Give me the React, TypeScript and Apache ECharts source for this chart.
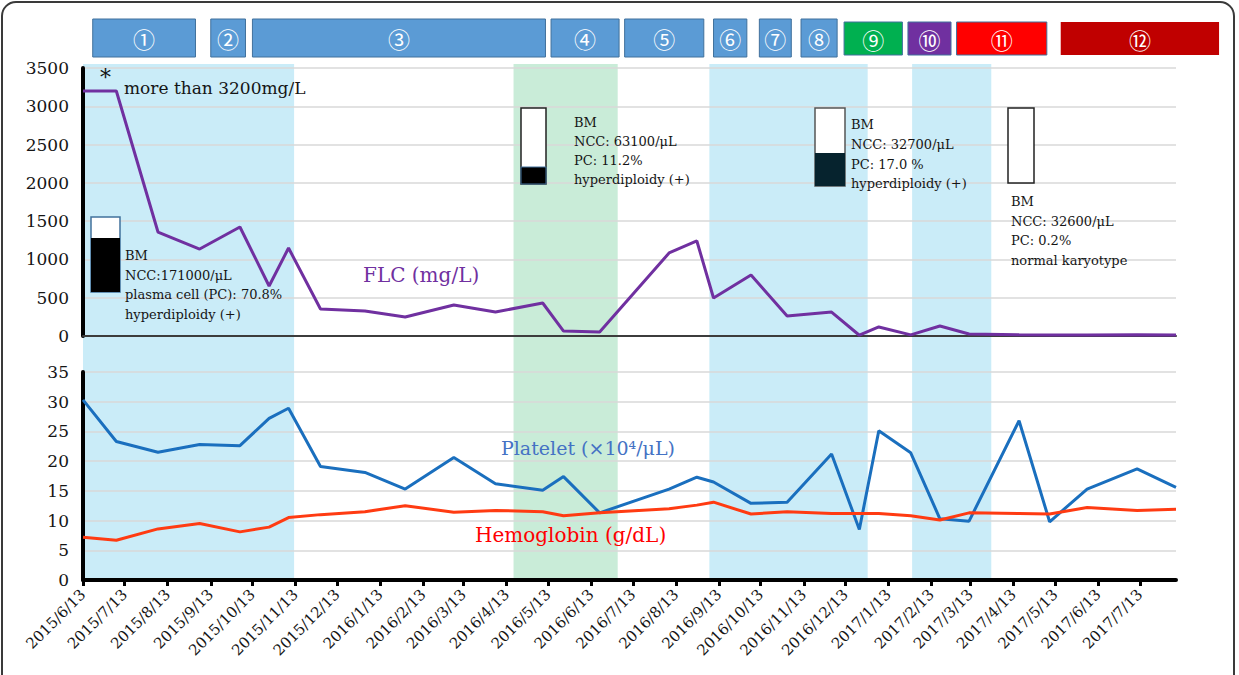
import React, { useEffect, useRef } from 'react';
import * as echarts from 'echarts';

// ---------- data ----------
const sampleDates = [
  '2015/6/13', '2015/7/7', '2015/8/6', '2015/9/5', '2015/10/4', '2015/10/25', '2015/11/8',
  '2015/12/1', '2016/1/2', '2016/1/31', '2016/3/6', '2016/4/5', '2016/5/9', '2016/5/24',
  '2016/6/19', '2016/8/8', '2016/8/28', '2016/9/9', '2016/10/6', '2016/11/1', '2016/12/3',
  '2016/12/23', '2017/1/6', '2017/1/29', '2017/2/19', '2017/3/12', '2017/4/17', '2017/5/9',
  '2017/6/5', '2017/7/11', '2017/8/8',
];
const flcValues = [
  3200, 3200, 1358, 1136, 1424, 653, 1149,
  353, 327, 248, 405, 313, 431, 65,
  52, 1084, 1241, 496, 797, 261, 313,
  10, 118, 15, 131, 26, 15, 12,
  14, 16, 13,
];
const plateletValues = [
  30.3, 23.3, 21.5, 22.8, 22.6, 27.2, 28.9,
  19.1, 18.1, 15.3, 20.6, 16.2, 15.1, 17.4,
  11.3, 15.3, 17.3, 16.5, 12.9, 13.1, 21.2,
  8.5, 25.1, 21.4, 10.3, 9.9, 26.8, 9.8,
  15.3, 18.7, 15.6,
];
const hemoglobinValues = [
  7.2, 6.7, 8.6, 9.5, 8.1, 8.9, 10.5,
  11.0, 11.5, 12.5, 11.4, 11.7, 11.5, 10.8,
  11.3, 12.0, 12.6, 13.1, 11.1, 11.5, 11.2,
  11.2, 11.2, 10.8, 10.1, 11.3, 11.2, 11.1,
  12.2, 11.7, 11.9,
];
const monthTicks = [
  '2015/6/13', '2015/7/13', '2015/8/13', '2015/9/13', '2015/10/13', '2015/11/13', '2015/12/13',
  '2016/1/13', '2016/2/13', '2016/3/13', '2016/4/13', '2016/5/13', '2016/6/13', '2016/7/13',
  '2016/8/13', '2016/9/13', '2016/10/13', '2016/11/13', '2016/12/13', '2017/1/13', '2017/2/13',
  '2017/3/13', '2017/4/13', '2017/5/13', '2017/6/13', '2017/7/13',
];
const axisStart = '2015/6/13';
const axisEnd = '2017/8/8';

const bandStarts = ['2015/6/13', '2016/4/18', '2016/9/6', '2017/1/30'];
const bandEnds = ['2015/11/12', '2016/7/2', '2016/12/29', '2017/3/28'];
const bandColors = ['#caecf8', '#c9ecd8', '#caecf8', '#caecf8'];

const regimenLabels = ['①', '②', '③', '④', '⑤', '⑥', '⑦', '⑧', '⑨', '⑩', '⑪', '⑫'];
const regimenStarts = ['2015/6/20', '2015/9/13', '2015/10/13', '2016/5/15', '2016/7/7', '2016/9/9',
  '2016/10/12', '2016/11/11', '2016/12/12', '2017/1/27', '2017/3/3', '2017/5/17'];
const regimenEnds = ['2015/9/2', '2015/10/8', '2016/5/11', '2016/7/3', '2016/9/2', '2016/10/3',
  '2016/11/4', '2016/12/7', '2017/1/23', '2017/2/27', '2017/5/7', '2017/9/8'];
const regimenColors = ['#5b9bd5', '#5b9bd5', '#5b9bd5', '#5b9bd5', '#5b9bd5', '#5b9bd5',
  '#5b9bd5', '#5b9bd5', '#00b050', '#7030a0', '#ff0000', '#c00000'];

const bmNote1 = ['BM', 'NCC:171000/μL', 'plasma cell (PC): 70.8%', 'hyperdiploidy (+)'];
const bmNote2 = ['BM', 'NCC: 63100/μL', 'PC: 11.2%', 'hyperdiploidy (+)'];
const bmNote3 = ['BM', 'NCC: 32700/μL', 'PC: 17.0 %', 'hyperdiploidy (+)'];
const bmNote4 = ['BM', 'NCC: 32600/μL', 'PC: 0.2%', 'normal karyotype'];

// ---------- helpers ----------
const t = (s: string) => {
  const [y, m, d] = s.split('/').map(Number);
  return new Date(y, m - 1, d).getTime();
};
const fmt = (v: number) => {
  const d = new Date(v);
  return `${d.getFullYear()}/${d.getMonth() + 1}/${d.getDate()}`;
};
const SERIF = '"DejaVu Serif"';
const INK = '#151515';

export default function App() {
  const ref = useRef<HTMLDivElement>(null);
  useEffect(() => {
    if (!ref.current) return;
    const chart = echarts.init(ref.current, undefined, { renderer: 'svg' });
    const ticks = monthTicks.map(t);
    const xBase = { type: 'value', min: t(axisStart), max: t(axisEnd), splitLine: { show: false } };
    const noteText = (lines: string[], x: number, y: number, lh: number) => ({
      type: 'text', x, y,
      style: { text: lines.join('\n'), font: `13px ${SERIF}`, fill: INK, lineHeight: lh, verticalAlign: 'top' },
      z: 50,
    });
    const yLabel = { color: INK, fontFamily: 'DejaVu Serif', fontSize: 17, margin: 14, formatter: (v: number) => String(v) };
    const option: any = {
      animation: false,
      backgroundColor: '#fff',
      textStyle: { fontFamily: 'DejaVu Serif' },
      grid: [
        { left: 83, right: 63, top: 68, height: 268 },
        { left: 83, right: 63, top: 372, height: 208 },
        { left: 83, right: 63, top: 64, height: 515 },
      ],
      xAxis: [
        { ...xBase, gridIndex: 0, axisLine: { show: true, lineStyle: { color: '#3c3c3c', width: 2 } },
          axisTick: { show: false }, axisLabel: { show: false } },
        { ...xBase, gridIndex: 1, axisLine: { show: true, lineStyle: { color: '#000', width: 4 } },
          axisTick: { show: true, customValues: ticks, length: 6, lineStyle: { color: '#000', width: 3 } },
          axisLabel: { show: true, customValues: ticks, rotate: 45, margin: 12, formatter: fmt,
            color: INK, fontFamily: 'DejaVu Serif', fontSize: 15 } },
        { ...xBase, gridIndex: 2, show: false },
      ],
      yAxis: [
        { gridIndex: 0, type: 'value', min: 0, max: 3500, interval: 500,
          axisLine: { show: true, lineStyle: { color: '#000', width: 4 } }, axisTick: { show: false },
          splitLine: { show: true, lineStyle: { color: '#d9d9d9', width: 1.5 } },
          axisLabel: yLabel },
        { gridIndex: 1, type: 'value', min: 0, max: 35, interval: 5,
          axisLine: { show: true, lineStyle: { color: '#000', width: 4 } }, axisTick: { show: false },
          splitLine: { show: true, lineStyle: { color: '#d9d9d9', width: 1.5 } },
          axisLabel: yLabel },
        { gridIndex: 2, type: 'value', min: 0, max: 1, show: false },
      ],
      series: [
        {
          type: 'custom', xAxisIndex: 2, yAxisIndex: 2, z: -1, silent: true,
          data: bandStarts.map((s, i) => [t(s), t(bandEnds[i])]),
          encode: { x: [0, 1] },
          renderItem: (params: any, api: any) => {
            const a = api.coord([api.value(0), 1]);
            const b = api.coord([api.value(1), 0]);
            return { type: 'rect', shape: { x: a[0], y: a[1], width: b[0] - a[0], height: b[1] - a[1] },
              style: { fill: bandColors[params.dataIndex] } };
          },
        },
        {
          type: 'custom', xAxisIndex: 2, yAxisIndex: 2, clip: false, silent: true,
          data: regimenStarts.map((s, i) => [t(s), t(regimenEnds[i])]),
          encode: { x: [0, 1] },
          renderItem: (params: any, api: any) => {
            const i = params.dataIndex;
            const a = api.coord([api.value(0), 0]);
            const b = api.coord([api.value(1), 0]);
            const col = regimenColors[i];
            const tall = col === '#5b9bd5';
            const top = tall ? 19 : 22;
            const h = tall ? 38 : 33;
            return {
              type: 'group',
              children: [
                { type: 'rect', shape: { x: a[0], y: top, width: b[0] - a[0], height: h },
                  style: { fill: col, stroke: i === 11 ? 'none' : '#41719c', lineWidth: 1 } },
                { type: 'text', style: { text: regimenLabels[i], x: (a[0] + b[0]) / 2, y: top + h / 2,
                  align: 'center', verticalAlign: 'middle', fill: '#fff', font: '22px "Noto Sans CJK JP"' } },
              ],
            };
          },
        },
        { name: 'FLC', type: 'line', xAxisIndex: 0, yAxisIndex: 0, symbol: 'none',
          data: sampleDates.map((d, i) => [t(d), flcValues[i]]),
          lineStyle: { color: '#7030a0', width: 3 } },
        { name: 'Platelet', type: 'line', xAxisIndex: 1, yAxisIndex: 1, symbol: 'none',
          data: sampleDates.map((d, i) => [t(d), plateletValues[i]]),
          lineStyle: { color: '#1a6fbe', width: 3 } },
        { name: 'Hemoglobin', type: 'line', xAxisIndex: 1, yAxisIndex: 1, symbol: 'none',
          data: sampleDates.map((d, i) => [t(d), hemoglobinValues[i]]),
          lineStyle: { color: '#ff3b12', width: 3 } },
      ],
      graphic: [
        { type: 'rect', shape: { x: 2, y: 2, width: 1232, height: 720, r: 14 },
          style: { fill: 'none', stroke: '#3a3a3a', lineWidth: 2 }, z: 60 },
        { type: 'text', x: 100, y: 66, style: { text: '*', font: `22px ${SERIF}`, fill: INK }, z: 50 },
        { type: 'text', x: 124, y: 88, style: { text: 'more than 3200mg/L', font: `17px ${SERIF}`, fill: INK, verticalAlign: 'middle' }, z: 50 },
        { type: 'text', x: 363, y: 275, style: { text: 'FLC (mg/L)', font: `20px ${SERIF}`, fill: '#7030a0', verticalAlign: 'middle' }, z: 50 },
        { type: 'text', x: 501, y: 448, style: { text: 'Platelet (×10⁴/μL)', font: `19px ${SERIF}`, fill: '#4472c4', verticalAlign: 'middle' }, z: 50 },
        { type: 'text', x: 475, y: 535, style: { text: 'Hemoglobin (g/dL)', font: `20px ${SERIF}`, fill: '#ff0000', verticalAlign: 'middle' }, z: 50 },
        // BM boxes
        { type: 'rect', shape: { x: 91, y: 217, width: 29, height: 75 }, style: { fill: '#fff', stroke: '#41719c', lineWidth: 1.5 }, z: 40 },
        { type: 'rect', shape: { x: 91, y: 238, width: 29, height: 54 }, style: { fill: '#000' }, z: 41 },
        { type: 'rect', shape: { x: 521, y: 108, width: 25, height: 76 }, style: { fill: '#fff', stroke: '#222', lineWidth: 1.5 }, z: 40 },
        { type: 'rect', shape: { x: 521, y: 167, width: 25, height: 17 }, style: { fill: '#000', stroke: '#41719c', lineWidth: 1 }, z: 41 },
        { type: 'rect', shape: { x: 815, y: 108, width: 30, height: 78 }, style: { fill: '#fff', stroke: '#555', lineWidth: 1.5 }, z: 40 },
        { type: 'rect', shape: { x: 815, y: 153, width: 30, height: 33 }, style: { fill: '#06232e' }, z: 41 },
        { type: 'rect', shape: { x: 1008, y: 108, width: 26, height: 75 }, style: { fill: '#fff', stroke: '#222', lineWidth: 1.5 }, z: 40 },
        noteText(bmNote1, 125, 246, 19.5),
        noteText(bmNote2, 574, 113, 19),
        noteText(bmNote3, 851, 115, 19.6),
        noteText(bmNote4, 1011, 192, 19.5),
      ],
    };
    chart.setOption(option);
    return () => chart.dispose();
  }, []);
  return <div ref={ref} style={{ position: 'absolute', left: 0, top: 0, width: 1239, height: 675, background: '#fff' }} />;
}
